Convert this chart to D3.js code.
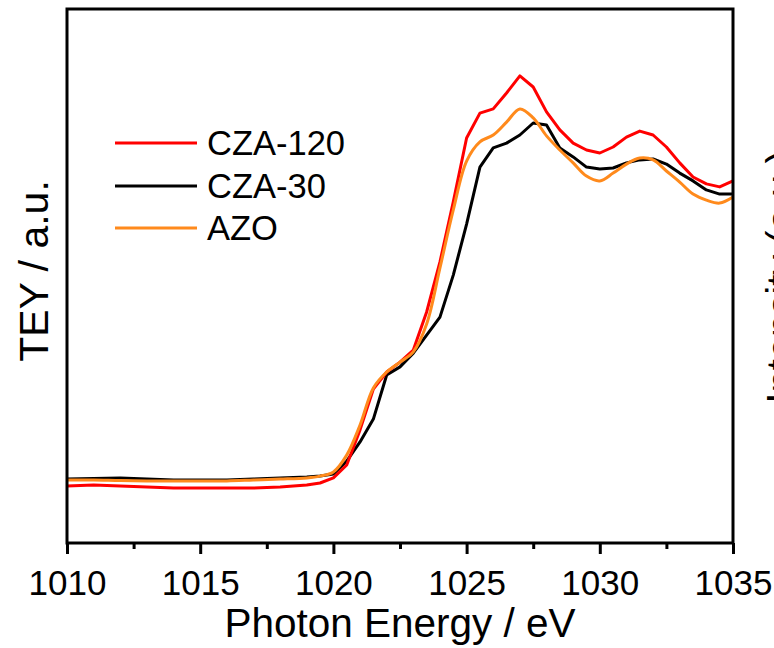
<!DOCTYPE html>
<html>
<head>
<meta charset="utf-8">
<script src="https://cdn.jsdelivr.net/npm/d3@7"></script>
<style>
  html, body { margin: 0; padding: 0; background: #fff; overflow: hidden; }
  svg { display: block; font-family: "Liberation Sans", Arial, sans-serif; }
</style>
</head>
<body>
<svg id="chart" width="774" height="648"></svg>
<script>
// Photon energy grid (eV)
const energy = [1010,1011,1012,1013,1014,1015,1016,1017,1018,1019,
  1019.5,1020,1020.5,1021,1021.5,1022,1022.5,1023,1023.5,1024,1024.5,
  1025,1025.5,1026,1026.5,1027,1027.5,1028,1028.5,1029,1029.5,1030,
  1030.5,1031,1031.5,1032,1032.5,1033,1033.5,1034,1034.5,1035];

// TEY intensity (a.u.)
const cza120 = [-0.020,-0.017,-0.020,-0.023,-0.027,-0.027,-0.027,-0.027,-0.023,-0.017,
  -0.010,0.007,0.050,0.167,0.303,0.360,0.393,0.433,0.560,0.727,0.927,
  1.140,1.223,1.237,1.290,1.347,1.310,1.227,1.167,1.123,1.100,1.090,
  1.110,1.143,1.163,1.150,1.110,1.057,1.010,0.987,0.977,0.997];
const cza30 = [0.003,0.005,0.007,0.003,0.000,0.000,0.000,0.003,0.007,0.010,
  0.013,0.020,0.063,0.127,0.203,0.350,0.377,0.423,0.483,0.543,0.683,
  0.853,1.043,1.107,1.123,1.150,1.190,1.183,1.107,1.077,1.043,1.037,
  1.040,1.057,1.067,1.070,1.053,1.023,0.997,0.967,0.953,0.953];
const azo = [0.000,0.000,-0.002,-0.003,-0.003,-0.003,-0.003,0.000,0.003,0.007,
  0.013,0.027,0.083,0.183,0.307,0.360,0.393,0.427,0.520,0.707,0.900,
  1.063,1.127,1.150,1.193,1.237,1.207,1.147,1.100,1.057,1.013,0.997,
  1.023,1.053,1.073,1.067,1.030,0.993,0.953,0.933,0.923,0.943];

const seriesNames = ["CZA-120", "CZA-30", "AZO"];
const seriesColors = ["#ff0000", "#000000", "#ff8a1c"];
const xTicks = [1010, 1015, 1020, 1025, 1030, 1035];
const xMinorTicks = [1012.5, 1017.5, 1022.5, 1027.5, 1032.5];

const svg = d3.select("#chart");
const margin = { left: 67, right: 41, top: 9, bottom: 105 };
const W = 774, H = 648;
const x = d3.scaleLinear().domain([1010, 1035]).range([margin.left, W - margin.right]);
const y = d3.scaleLinear().domain([-0.21, 1.57]).range([H - margin.bottom, margin.top]);

const seriesData = [cza120, cza30, azo];
const curves = [d3.curveLinear, d3.curveLinear, d3.curveCatmullRom.alpha(0.5)];

const drawOrder = [1, 0, 2];
drawOrder.forEach(i => {
  const line = d3.line()
    .x((d, j) => x(energy[j]))
    .y(d => y(d))
    .curve(curves[i]);
  svg.append("path")
    .datum(seriesData[i])
    .attr("d", line)
    .attr("fill", "none")
    .attr("stroke", seriesColors[i])
    .attr("stroke-width", 3)
    .attr("stroke-linejoin", "round");
});

// frame
svg.append("rect")
  .attr("x", x(1010)).attr("y", y(1.57))
  .attr("width", x(1035) - x(1010)).attr("height", y(-0.21) - y(1.57))
  .attr("fill", "none").attr("stroke", "#000").attr("stroke-width", 3);

// bottom axis
const xAxis = d3.axisBottom(x).tickValues(xTicks).tickFormat(d3.format("d"))
  .tickSize(11).tickPadding(16);
const gx = svg.append("g").attr("transform", `translate(0,${y(-0.21)})`).call(xAxis);
gx.select(".domain").remove();
gx.selectAll(".tick line").attr("stroke-width", 3);
gx.selectAll(".tick text").attr("font-size", 35).attr("fill", "#000")
  .attr("font-family", "Liberation Sans, Arial, sans-serif");

const xAxisMinor = d3.axisBottom(x).tickValues(xMinorTicks).tickFormat("").tickSize(6);
const gxm = svg.append("g").attr("transform", `translate(0,${y(-0.21)})`).call(xAxisMinor);
gxm.select(".domain").remove();
gxm.selectAll(".tick line").attr("stroke-width", 3);

// axis titles
svg.append("text")
  .attr("x", (x(1010) + x(1035)) / 2).attr("y", 637)
  .attr("text-anchor", "middle").attr("font-size", 40.5).attr("fill", "#000")
  .text("Photon Energy / eV");

svg.append("text")
  .attr("transform", `translate(48,${(y(-0.21) + y(1.57)) / 2 - 5}) rotate(-90)`)
  .attr("text-anchor", "middle").attr("font-size", 41).attr("fill", "#000")
  .text("TEY / a.u.");

// clipped label of neighbouring panel (cut off at the right edge, as in the reference)
svg.append("text")
  .attr("transform", `translate(795,277) rotate(-90)`)
  .attr("text-anchor", "middle").attr("font-size", 40).attr("fill", "#000")
  .text("Intensity (a.u.)");

// legend
const legendY = [143, 186, 228];
seriesNames.forEach((name, i) => {
  svg.append("line")
    .attr("x1", 115).attr("x2", 197)
    .attr("y1", legendY[i]).attr("y2", legendY[i])
    .attr("stroke", seriesColors[i]).attr("stroke-width", 3);
  svg.append("text")
    .attr("x", 207).attr("y", legendY[i] + 12)
    .attr("font-size", 34.5).attr("fill", "#000")
    .text(name);
});
</script>
</body>
</html>
